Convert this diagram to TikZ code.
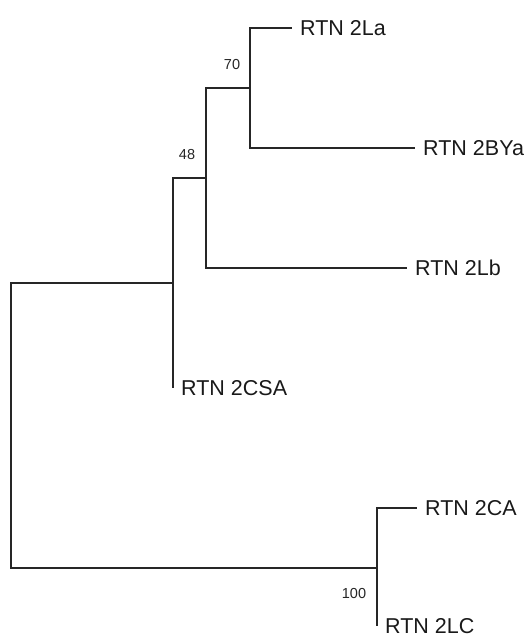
\documentclass[tikz,border=0pt]{standalone}
\usepackage{fontspec}
\setmainfont{Liberation Sans}
\begin{document}
\begin{tikzpicture}[x=1pt,y=-1pt,
  branch/.style={line width=1.1pt, draw=black!85},
  leaf/.style={anchor=west, inner sep=0pt, text depth=0pt, font=\fontsize{21.5}{25}\selectfont, text=black!90},
  boot/.style={inner sep=0pt, font=\fontsize{14.5}{16}\selectfont, text=black!85}]
\useasboundingbox (0,0) rectangle (528,637);
% internal nodes
\coordinate (n70) at (250,88);
\coordinate (n48) at (206,178);
\coordinate (nA) at (173,283);
\coordinate (root) at (11,420);
\coordinate (n100) at (377,568);
% leaves
\coordinate (La) at (292,28);
\coordinate (BYa) at (415,148);
\coordinate (Lb) at (407,268);
\coordinate (CSA) at (173,388);
\coordinate (CA) at (417,508);
\coordinate (LC) at (377,626);
% branches
\draw[branch] (n70) |- (La);
\draw[branch] (n70) |- (BYa);
\draw[branch] (n48) |- (n70);
\draw[branch] (n48) |- (Lb);
\draw[branch] (nA) |- (n48);
\draw[branch] (nA) -- (CSA);
\draw[branch] (root) |- (nA);
\draw[branch] (root) |- (n100);
\draw[branch] (n100) |- (CA);
\draw[branch] (n100) -- (LC);
% labels
\node[leaf] (tLa) at ([xshift=8]La) {RTN 2La};
\node[leaf] (tBYa) at ([xshift=8]BYa) {RTN 2BYa};
\node[leaf] (tLb) at ([xshift=8]Lb) {RTN 2Lb};
\node[leaf] (tCSA) at ([xshift=8]CSA) {RTN 2CSA};
\node[leaf] (tCA) at ([xshift=8]CA) {RTN 2CA};
\node[leaf] (tLC) at ([xshift=8]LC) {RTN 2LC};
% bootstrap values
\node[boot] (b70) at (232,65) {70};
\node[boot] (b48) at (187,155) {48};
\node[boot] (b100) at (354,594) {100};
\end{tikzpicture}
\end{document}
